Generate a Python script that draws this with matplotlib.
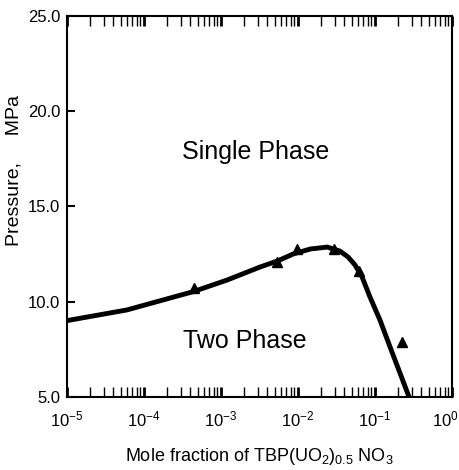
import numpy as np
import matplotlib
matplotlib.use('Agg')
import matplotlib.pyplot as plt
from matplotlib.ticker import LogLocator, NullFormatter
from matplotlib.transforms import ScaledTranslation

plt.rcParams['font.family'] = ['Liberation Sans', 'DejaVu Sans']
plt.rcParams['mathtext.default'] = 'regular'

# fitted phase boundary
curve_x = [1.0e-5, 6.0e-5, 4.35e-4, 1.2e-3, 3.2e-3, 5.4e-3, 8.7e-3, 1.45e-2,
           2.4e-2, 3.5e-2, 4.47e-2, 5.5e-2, 6.8e-2, 8.6e-2, 0.116, 0.157,
           0.211, 0.277]
curve_y = [9.01, 9.57, 10.53, 11.14, 11.82, 12.14, 12.51, 12.77,
           12.87, 12.66, 12.35, 11.93, 11.30, 10.25, 9.04, 7.62,
           6.26, 5.0]

# measured points
meas_x = [4.45e-4, 5.3e-3, 9.8e-3, 2.9e-2, 6.2e-2, 0.224]
meas_y = [10.72, 12.09, 12.77, 12.77, 11.61, 7.89]

xticks = [1e-5, 1e-4, 1e-3, 1e-2, 1e-1, 1e0]
xlabels = ['$10^{-5}$', '$10^{-4}$', '$10^{-3}$', '$10^{-2}$', '$10^{-1}$', '$10^{0}$']
yticks = [5.0, 10.0, 15.0, 20.0, 25.0]

fig = plt.figure(figsize=(4.6, 4.7), dpi=100)
ax = fig.add_axes([0.1457, 0.1553, 0.8369, 0.8107])

ax.plot(curve_x, curve_y, color='black', linewidth=3.5, solid_joinstyle='round',
        solid_capstyle='butt')
ax.plot(meas_x, meas_y, linestyle='none', marker='^', color='black', markersize=7)

ax.set_xscale('log')
ax.set_xlim(1e-5, 1)
ax.set_ylim(5, 25)

ax.set_xticks(xticks)
ax.set_xticklabels(xlabels)
ax.xaxis.set_minor_locator(LogLocator(base=10, subs=np.arange(2, 10), numticks=10))
ax.xaxis.set_minor_formatter(NullFormatter())
ax.tick_params(axis='x', which='both', direction='in', top=True, bottom=True,
               length=7.5, labelsize=12, pad=9)
ax.tick_params(axis='x', which='major', width=2)
ax.tick_params(axis='x', which='minor', width=1)

# last label sits at the figure edge, nudge it left a little
last = ax.xaxis.get_major_ticks()[-1].label1
last.set_transform(last.get_transform() + ScaledTranslation(-5 / 72, 0, fig.dpi_scale_trans))

ax.set_yticks(yticks)
ax.set_yticklabels([f'{v:.1f}' for v in yticks])
ax.tick_params(axis='y', direction='in', left=True, right=False, length=6,
               width=1.5, labelsize=12, pad=5)

for s in ax.spines.values():
    s.set_linewidth(1.5)

ax.text(0.491, 0.643, 'Single Phase', transform=ax.transAxes, ha='center',
        va='center', fontsize=18)
ax.text(0.462, 0.147, 'Two Phase', transform=ax.transAxes, ha='center',
        va='center', fontsize=18)

ax.set_xlabel('Mole fraction of TBP(UO$_2$)$_{0.5}$ NO$_3$', fontsize=13,
              labelpad=12)
ax.set_ylabel('Pressure,     MPa', fontsize=14, labelpad=8)
ax.yaxis.set_label_coords(-0.115, 0.595)

fig.savefig('out.png', dpi=100)
